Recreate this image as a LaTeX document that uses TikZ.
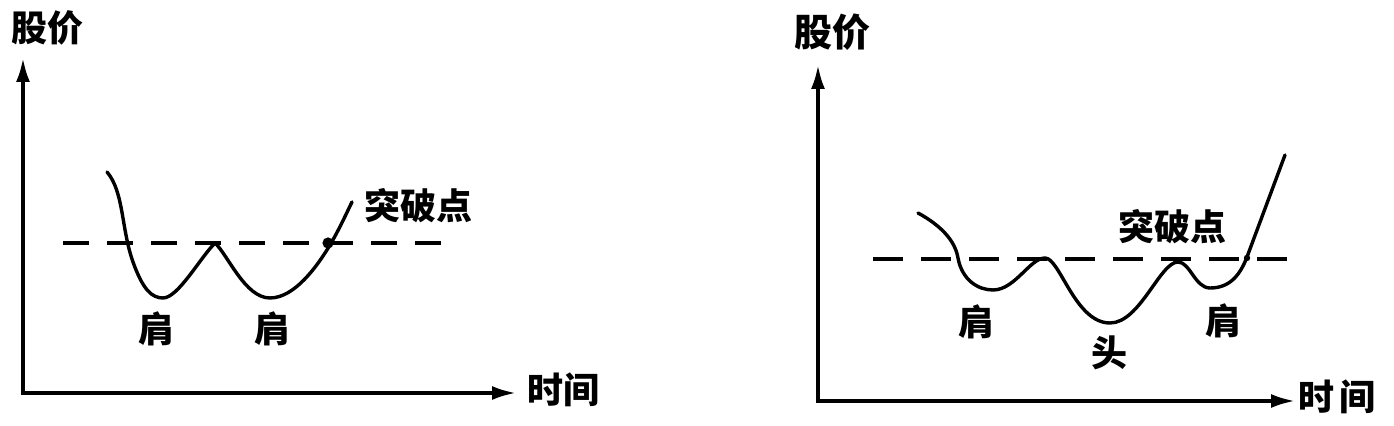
\documentclass[tikz,border=0pt]{standalone}
\usepackage{fontspec}
\newfontfamily\cjk{Noto Sans CJK SC}
\usetikzlibrary{arrows.meta, positioning}

\begin{document}
\begin{tikzpicture}[
    x=0.5pt, y=-0.5pt,
    lbl/.style={inner sep=0pt, font=\cjk\bfseries\fontsize{18}{18}\selectfont},
    axis/.style={line width=1.7pt, {Latex[length=12pt,width=7pt]}-{Latex[length=12pt,width=7pt]}},
    price/.style={line width=1.7pt, line join=round, line cap=round},
    level/.style={line width=1.7pt, dash pattern=on 13pt off 9pt}
]
    \useasboundingbox (0,0) rectangle (1394,426);

    % Left: double bottom
    \coordinate (yt1) at (23,58);
    \coordinate (o1) at (23,393);
    \coordinate (xt1) at (516,393);
    \draw[axis] (yt1) -- (o1) -- (xt1);
    \node[lbl] (yl1) at (47,28) {股价};
    \node[lbl] (xl1) at (563,390) {时间};

    \coordinate (lv1a) at (63,243);
    \coordinate (lv1b) at (447,243);
    \draw[level] (lv1a) -- (lv1b);

    \draw[price] (107,172) .. controls (124,192) and (121,228) .. (133,262)
        .. controls (143,290) and (152,298) .. (163,298)
        .. controls (178,298) and (200,258) .. (215,243)
        .. controls (228,255) and (245,298) .. (270,298)
        .. controls (295,298) and (318,265) .. (330,245)
        .. controls (340,228) and (347,212) .. (352,202);
    \coordinate (brk1) at (328,243);
    \fill (brk1) circle (2.8pt);

    \node[lbl] (brl1) at (418,206) {突破点};
    \node[lbl] (sh1) at (156,329) {肩};
    \node[lbl] (sh2) at (272,329) {肩};

    % Right: head and shoulders bottom
    \coordinate (yt2) at (818,65);
    \coordinate (o2) at (818,401);
    \coordinate (xt2) at (1295,401);
    \draw[axis] (yt2) -- (o2) -- (xt2);
    \node[lbl, font=\cjk\bfseries\fontsize{19}{19}\selectfont] (yl2) at (832,32) {股价};
    \node[lbl] (xl2) at (1337,397) {时\hspace{3pt}间};

    \coordinate (lv2a) at (873,259);
    \coordinate (lv2b) at (1300,259);
    \draw[level, dash pattern=on 15pt off 9pt] (lv2a) -- (lv2b);

    \draw[price] (918,213) .. controls (940,225) and (955,240) .. (958,258)
        .. controls (962,280) and (978,290) .. (993,290)
        .. controls (1015,290) and (1030,258) .. (1045,258)
        .. controls (1060,258) and (1075,323) .. (1110,323)
        .. controls (1140,323) and (1160,262) .. (1178,262)
        .. controls (1190,262) and (1195,288) .. (1210,288)
        .. controls (1230,288) and (1240,275) .. (1247,257)
        -- (1285,155);
    \coordinate (brk2) at (1247,258);
    \fill (brk2) circle (1.6pt);

    \node[lbl] (brl2) at (1172,227) {突破点};
    \node[lbl] (sh3) at (976,322) {肩};
    \node[lbl] (hd) at (1109,353) {头};
    \node[lbl] (sh4) at (1223,321) {肩};
\end{tikzpicture}
\end{document}
